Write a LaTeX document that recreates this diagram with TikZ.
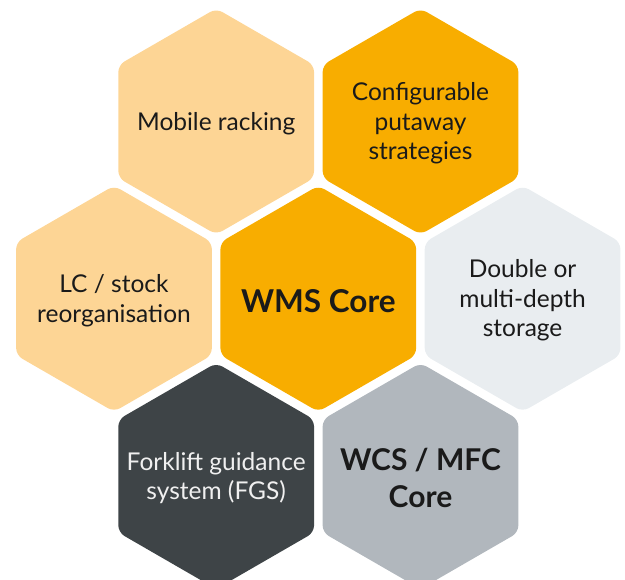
\documentclass[tikz,border=0pt]{standalone}
\usepackage{fontspec}
\setmainfont{Lato}
\usetikzlibrary{shapes.geometric}
\definecolor{lightor}{HTML}{FDD595}
\definecolor{orange}{HTML}{F8AD00}
\definecolor{lightgrey}{HTML}{E9EDF0}
\definecolor{darkgrey}{HTML}{3E4447}
\definecolor{midgrey}{HTML}{B1B7BD}
\definecolor{txt}{HTML}{1A1A1A}
\tikzset{
  hexa/.style={regular polygon, regular polygon sides=6, shape border rotate=30,
    minimum size=226pt, inner sep=0pt, outer sep=0pt, rounded corners=7pt,
    draw=none},
  label text/.style={align=center, text=txt, inner sep=0pt, yshift=-2pt,
    font=\fontsize{24.5}{29.5}\selectfont},
  core text/.style={align=center, text=txt, inner sep=0pt, yshift=-2pt,
    font=\fontsize{30}{37.5}\selectfont\bfseries},
}
\begin{document}
\begin{tikzpicture}[x=1pt,y=-1pt]
\useasboundingbox (0,0) rectangle (625,580);
\node[hexa, fill=lightor] (mob) at (216.2,121.5) {};
\node[hexa, fill=orange] (conf) at (420.5,121.5) {};
\node[hexa, fill=lightor] (lc) at (114,298.7) {};
\node[hexa, fill=orange] (wms) at (318.3,298.7) {};
\node[hexa, fill=lightgrey] (dbl) at (522.6,298.7) {};
\node[hexa, fill=darkgrey] (fgs) at (216.2,476) {};
\node[hexa, fill=midgrey] (wcs) at (420.5,476) {};
\node[label text] (tmob) at (mob.center) {Mobile racking};
\node[label text] (tconf) at (conf.center) {Configurable\\putaway\\strategies};
\node[label text] (tlc) at (lc.center) {LC / stock\\reorganisation};
\node[core text, font=\fontsize{31.5}{37.5}\selectfont\bfseries] (twms) at (wms.center) {WMS Core};
\node[label text] (tdbl) at (dbl.center) {Double or\\multi-depth\\storage};
\node[label text, text=white!94!black] (tfgs) at (fgs.center) {Forklift guidance\\system (FGS)};
\node[core text] (twcs) at (wcs.center) {WCS / MFC\\Core};
\end{tikzpicture}
\end{document}
